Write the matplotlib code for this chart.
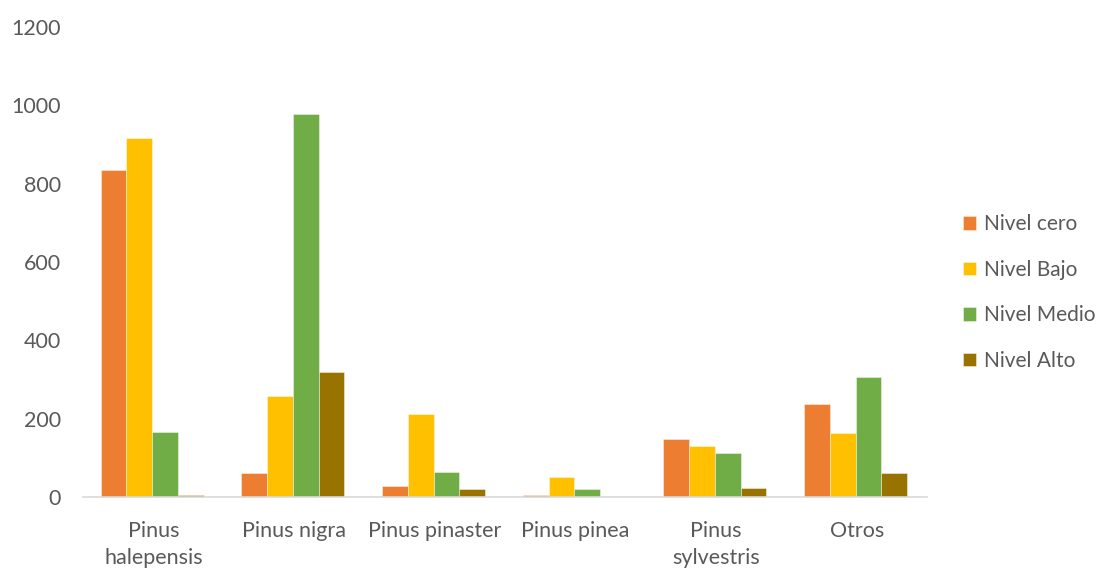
import numpy as np
import matplotlib.pyplot as plt

# data
categories = ["Pinus\nhalepensis", "Pinus nigra", "Pinus pinaster", "Pinus pinea",
              "Pinus\nsylvestris", "Otros"]
nivel_cero = [836, 61, 28, 5, 147, 237]
nivel_bajo = [916, 259, 211, 50, 131, 163]
nivel_medio = [166, 979, 63, 20, 112, 306]
nivel_alto = [4, 318, 20, 0, 23, 62]

series = [
    ("Nivel cero", nivel_cero, "#ED7D31"),
    ("Nivel Bajo", nivel_bajo, "#FFC000"),
    ("Nivel Medio", nivel_medio, "#70AD47"),
    ("Nivel Alto", nivel_alto, "#997300"),
]

plt.rcParams["font.family"] = ["Lato", "DejaVu Sans"]
TEXT = "#595959"
FS = 15.5

fig = plt.figure(figsize=(11.02, 5.68), dpi=100)
ax = fig.add_axes([0.0753, 0.125, 0.766, 0.8275])

x = np.arange(len(categories))
bw = 0.183
for i, (name, vals, col) in enumerate(series):
    ax.bar(x + (i - 1.5) * bw - 0.008, vals, width=bw, color=col, label=name,
           edgecolor="#FFFFFF99", linewidth=0.5)

ax.set_xlim(-0.5, len(categories) - 0.5)
ax.set_ylim(0, 1200)
ax.set_yticks(range(0, 1201, 200))
ax.set_xticks(x)
ax.set_xticklabels(categories, linespacing=1.45)
ax.tick_params(axis="both", length=0, labelsize=FS, colors=TEXT)
ax.tick_params(axis="y", pad=16)
ax.tick_params(axis="x", pad=17)

for s in ["top", "right", "left"]:
    ax.spines[s].set_visible(False)
ax.spines["bottom"].set_color("#D9D9D9")
ax.spines["bottom"].set_linewidth(1.2)

leg = ax.legend(loc="center left", bbox_to_anchor=(1.02, 0.435), frameon=False,
                fontsize=15, handlelength=0.63, handleheight=0.63,
                handletextpad=0.4, labelspacing=1.23)
for t in leg.get_texts():
    t.set_color(TEXT)

fig.savefig("out.png", dpi=100)
